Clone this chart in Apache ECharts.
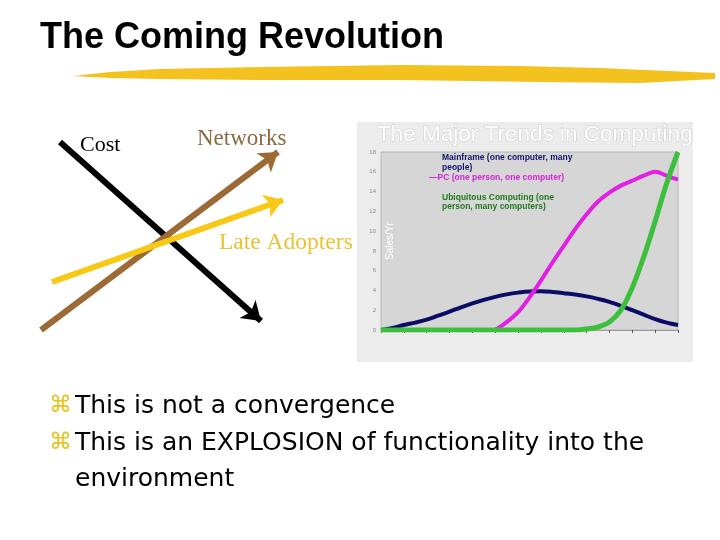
<!DOCTYPE html>
<html><head><meta charset="utf-8">
<script src="https://cdn.jsdelivr.net/npm/echarts@6/dist/echarts.min.js"></script>
<style>html,body{margin:0;padding:0;background:#fff}#c{width:720px;height:540px}</style>
</head><body><div id="c"></div>
<script>
// Chart "The Major Trends in Computing" (x in time steps, y = Sales/Yr)
const yTicks = [0, 2, 4, 6, 8, 10, 12, 14, 16, 18];
const mainframe = [[0,0],[0.5,0.2],[1,0.5],[1.5,0.75],[2,1.05],[2.5,1.45],[3,1.85],[3.5,2.3],[4,2.7],[4.5,3.05],[5,3.35],[5.5,3.6],[6,3.78],[6.5,3.9],[7,3.92],[7.5,3.85],[8,3.72],[8.5,3.58],[9,3.4],[9.5,3.15],[10,2.85],[10.5,2.45],[11,2.0],[11.5,1.55],[12,1.1],[12.5,0.75],[13,0.5]];
const pc = [[5,0],[5.5,0.8],[6,1.8],[6.5,3.3],[7,5.0],[7.5,6.8],[8,8.5],[8.5,10.2],[9,11.7],[9.5,13.0],[10,13.9],[10.5,14.6],[11,15.1],[11.5,15.6],[12,16.0],[12.5,15.6],[13,15.2]];
const ubiquitous = [[0,0],[0.5,0],[1,0],[1.5,0],[2,0],[2.5,0],[3,0],[3.5,0],[4,0],[4.5,0],[5,0],[5.5,0],[6,0],[6.5,0],[7,0],[7.5,0],[8,0],[8.5,0],[9,0.1],[9.5,0.3],[10,0.8],[10.5,2.0],[11,4.3],[11.5,7.4],[12,11.0],[12.5,14.8],[13,18.0]];
const seriesNames = ['Mainframe (one computer, many people)', 'PC (one person, one computer)', 'Ubiquitous Computing (one person, many computers)'];

// Left diagram arrows (in a 340 x 250 drawing space)
const arrowCost = [[40, 32], [241, 211]];
const arrowNetworks = [[21, 220], [258, 42]];
const arrowLate = [[32, 172], [263, 90]];

const chart = echarts.init(document.getElementById('c'), null, {renderer: 'canvas'});
const serif = '"Liberation Serif", "Times New Roman", serif';
const sans = '"Liberation Sans", Arial, sans-serif';
const bodyFont = '"DejaVu Sans", Verdana, sans-serif';

chart.setOption({
  animation: false,
  backgroundColor: '#ffffff',
  title: {
    text: 'The Major Trends in Computing',
    left: 372, top: 118,
    textStyle: {fontFamily: sans, fontSize: 22.5, fontWeight: 'normal', color: '#ffffff', textBorderColor: '#cdcdcd', textBorderWidth: 1}
  },
  grid: [
    {left: 20, top: 110, width: 340, height: 250, show: false},
    {left: 381, top: 152, width: 297, height: 178, show: true, backgroundColor: '#d6d6d6', borderColor: '#b8b8b8', borderWidth: 1}
  ],
  xAxis: [
    {gridIndex: 0, type: 'value', min: 0, max: 340, show: false},
    {gridIndex: 1, type: 'value', min: 0, max: 13, interval: 1,
     axisLine: {show: true, lineStyle: {color: '#9a9a9a', width: 1}},
     axisTick: {show: true, length: 3, lineStyle: {color: '#555'}},
     axisLabel: {show: false}, splitLine: {show: false}}
  ],
  yAxis: [
    {gridIndex: 0, type: 'value', min: 0, max: 250, inverse: true, show: false},
    {gridIndex: 1, type: 'value', min: 0, max: 18, interval: 2,
     name: 'Sales/Yr', nameLocation: 'middle', nameRotate: 90, nameGap: -14,
     nameTextStyle: {color: '#ffffff', fontFamily: sans, fontSize: 10},
     axisLine: {show: false}, axisTick: {show: false}, splitLine: {show: false},
     axisLabel: {fontSize: 6, color: '#8a8a8a', margin: 5, fontFamily: sans}}
  ],
  graphic: [
    {type: 'rect', z: -10, shape: {x: 357, y: 122, width: 336, height: 240}, style: {fill: '#ececec'}},
    {type: 'polygon', z: -5, shape: {points: [[73,76],[110,72],[160,69],[260,67],[400,65],[520,66],[600,68],[715,73],[715,79],[640,83],[540,82],[400,80],[260,80],[160,79],[110,78]]}, style: {fill: '#f4c21e'}},
    {type: 'text', style: {text: 'The Coming Revolution', x: 40, y: 38, verticalAlign: 'middle', font: 'bold 36px ' + sans, fill: '#000'}},
    {type: 'text', style: {text: 'Cost', x: 80, y: 145, verticalAlign: 'middle', font: '22px ' + serif, fill: '#000'}},
    {type: 'text', style: {text: 'Networks', x: 197, y: 139, verticalAlign: 'middle', font: '23px ' + serif, fill: '#8c6a3e'}},
    {type: 'text', style: {text: 'Late Adopters', x: 219, y: 243, verticalAlign: 'middle', font: '23.5px ' + serif, fill: '#e9c235'}},
    {type: 'text', style: {text: 'Mainframe (one computer, many', x: 442, y: 158, verticalAlign: 'middle', font: 'bold 8.5px ' + sans, fill: '#141470'}},
    {type: 'text', style: {text: 'people)', x: 442, y: 168, verticalAlign: 'middle', font: 'bold 8.5px ' + sans, fill: '#141470'}},
    {type: 'text', style: {text: '\u2014PC (one person, one computer)', x: 429, y: 178, verticalAlign: 'middle', font: 'bold 8.5px ' + sans, fill: '#d61fd6'}},
    {type: 'text', style: {text: 'Ubiquitous Computing (one', x: 442, y: 198, verticalAlign: 'middle', font: 'bold 8.5px ' + sans, fill: '#1f7a1f'}},
    {type: 'text', style: {text: 'person, many computers)', x: 442, y: 207, verticalAlign: 'middle', font: 'bold 8.5px ' + sans, fill: '#1f7a1f'}},
    {type: 'text', style: {text: '\u2318', x: 49, y: 406, verticalAlign: 'middle', font: '23px "DejaVu Sans", sans-serif', fill: '#e8c21a'}},
    {type: 'text', style: {text: 'This is not a convergence', x: 75, y: 406, verticalAlign: 'middle', font: '25px ' + bodyFont, fill: '#000'}},
    {type: 'text', style: {text: '\u2318', x: 49, y: 443, verticalAlign: 'middle', font: '23px "DejaVu Sans", sans-serif', fill: '#e8c21a'}},
    {type: 'text', style: {text: 'This is an EXPLOSION of functionality into the', x: 75, y: 443, verticalAlign: 'middle', font: '25px ' + bodyFont, fill: '#000'}},
    {type: 'text', style: {text: 'environment', x: 75, y: 479, verticalAlign: 'middle', font: '25px ' + bodyFont, fill: '#000'}}
  ],
  series: [
    {type: 'lines', coordinateSystem: 'cartesian2d', xAxisIndex: 0, yAxisIndex: 0, symbol: ['none', 'arrow'], symbolSize: 18,
     lineStyle: {color: '#000000', width: 6, opacity: 1}, data: [{coords: arrowCost}]},
    {type: 'lines', coordinateSystem: 'cartesian2d', xAxisIndex: 0, yAxisIndex: 0, symbol: ['none', 'arrow'], symbolSize: 18,
     lineStyle: {color: '#9c6a35', width: 6, opacity: 1}, data: [{coords: arrowNetworks}]},
    {type: 'lines', coordinateSystem: 'cartesian2d', xAxisIndex: 0, yAxisIndex: 0, symbol: ['none', 'arrow'], symbolSize: 18,
     lineStyle: {color: '#f7c814', width: 6, opacity: 1}, data: [{coords: arrowLate}]},
    {name: seriesNames[0], type: 'line', xAxisIndex: 1, yAxisIndex: 1, data: mainframe, smooth: 0.35, showSymbol: false,
     lineStyle: {color: '#0c0c66', width: 4}},
    {name: seriesNames[1], type: 'line', xAxisIndex: 1, yAxisIndex: 1, data: pc, smooth: 0.35, showSymbol: false,
     lineStyle: {color: '#e21fe2', width: 4}},
    {name: seriesNames[2], type: 'line', xAxisIndex: 1, yAxisIndex: 1, data: ubiquitous, smooth: 0.35, showSymbol: false,
     lineStyle: {color: '#3cbf3c', width: 5}}
  ]
});
</script></body></html>
